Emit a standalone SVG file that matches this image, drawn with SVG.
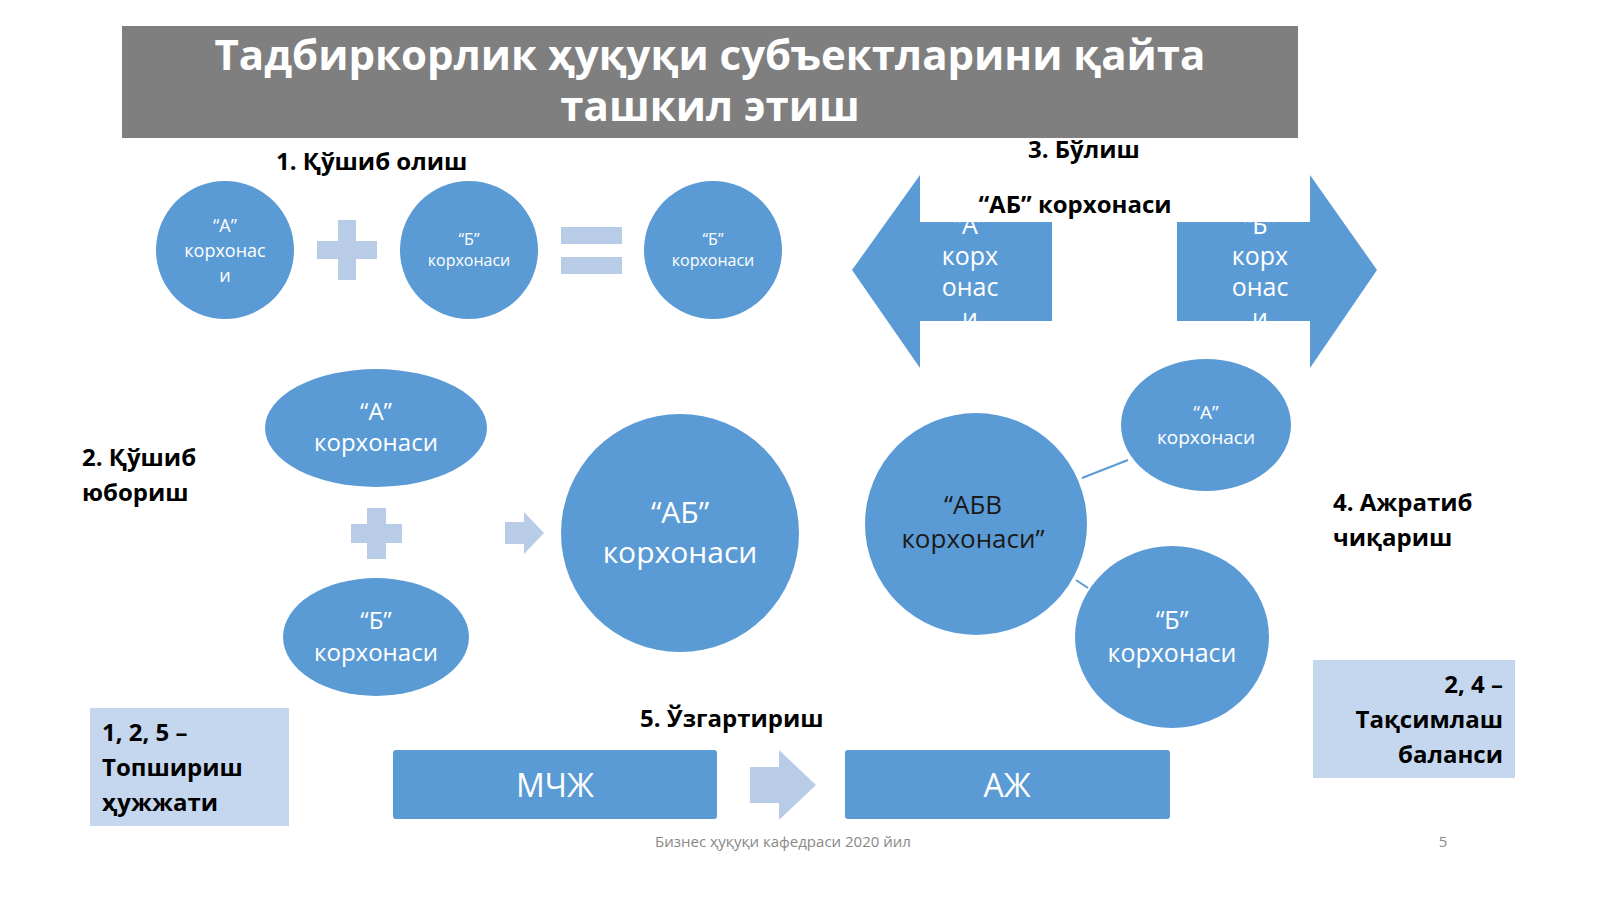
<svg xmlns="http://www.w3.org/2000/svg" width="1600" height="899" viewBox="0 0 1600 899">
<style>
.b{fill:#5b9bd5}
.l{fill:#b8cce8}
.lb{fill:#c5d7ee}
.w{fill:#fff;font-family:"Open Sans","Noto Sans",sans-serif;text-anchor:middle}
.k{fill:#000;font-family:"Open Sans","Noto Sans",sans-serif;font-weight:bold}
</style>
<defs>
<clipPath id="c1"><rect x="920" y="222" width="132" height="99"/></clipPath>
<clipPath id="c2"><rect x="1177" y="222" width="133" height="99"/></clipPath>
</defs>
<rect width="1600" height="899" fill="#fff"/>
<g id="title">
<rect x="122" y="26" width="1176" height="112" fill="#7f7f7f"/>
<text x="710" y="70" class="w" font-size="42" font-weight="bold">Тадбиркорлик ҳуқуқи субъектларини қайта</text>
<text x="710" y="121" class="w" font-size="42" font-weight="bold">ташкил этиш</text>
</g>
<g id="labels">
<text x="276" y="170" class="k" font-size="24">1. Қўшиб олиш</text>
<text x="1028" y="158" class="k" font-size="24">3. Бўлиш</text>
<text x="82" y="466" class="k" font-size="24">2. Қўшиб</text>
<text x="82" y="501" class="k" font-size="24">юбориш</text>
<text x="1333" y="511" class="k" font-size="24">4. Ажратиб</text>
<text x="1333" y="546" class="k" font-size="24">чиқариш</text>
<text x="640" y="727" class="k" font-size="24">5. Ўзгартириш</text>
</g>
<g id="merge1">
<ellipse cx="225" cy="250" rx="69" ry="69" class="b"/>
<text x="225" y="232" class="w" font-size="18">“А”</text>
<text x="225" y="257" class="w" font-size="18">корхонас</text>
<text x="225" y="282" class="w" font-size="18">и</text>
<path d="M338 220h18v21h21v18h-21v21h-18v-21h-21v-18h21z" class="l"/>
<ellipse cx="469" cy="250" rx="69" ry="69" class="b"/>
<text x="469" y="245" class="w" font-size="16">“Б”</text>
<text x="469" y="266" class="w" font-size="16">корхонаси</text>
<rect x="561" y="227" width="61" height="17" class="l"/>
<rect x="561" y="257" width="61" height="17" class="l"/>
<ellipse cx="713" cy="250" rx="69" ry="69" class="b"/>
<text x="713" y="245" class="w" font-size="16">“Б”</text>
<text x="713" y="266" class="w" font-size="16">корхонаси</text>
</g>
<g id="split">
<path d="M852 270L920 175V222H1052V321H920V368Z" class="b"/>
<path d="M1377 270L1310 175V222H1177V321H1310V368Z" class="b"/>
<rect x="920" y="175" width="390" height="47" fill="#fff"/>
<text x="1075" y="213" class="k" font-size="24" text-anchor="middle">“АБ” корхонаси</text>
<g clip-path="url(#c1)" class="w" font-size="25">
<text x="970" y="234">“А”</text><text x="970" y="265">корх</text><text x="970" y="296">онас</text><text x="970" y="327">и</text>
</g>
<g clip-path="url(#c2)" class="w" font-size="25">
<text x="1260" y="234">“Б”</text><text x="1260" y="265">корх</text><text x="1260" y="296">онас</text><text x="1260" y="327">и</text>
</g>
</g>
<g id="merge2">
<ellipse cx="376" cy="428" rx="111" ry="59" class="b"/>
<text x="376" y="420" class="w" font-size="24">“А”</text>
<text x="376" y="451" class="w" font-size="24">корхонаси</text>
<path d="M367 508h19v16h16v19h-16v16h-19v-16h-16v-19h16z" class="l"/>
<ellipse cx="376" cy="637" rx="93" ry="59" class="b"/>
<text x="376" y="629" class="w" font-size="24">“Б”</text>
<text x="376" y="661" class="w" font-size="24">корхонаси</text>
<path d="M505 522h19v-10l20 21l-20 21v-10h-19z" class="l"/>
<ellipse cx="680" cy="533" rx="119" ry="119" class="b"/>
<text x="680" y="523" class="w" font-size="30">“АБ”</text>
<text x="680" y="563" class="w" font-size="30">корхонаси</text>
</g>
<g id="connectors">
<line x1="1082" y1="478" x2="1128" y2="460" stroke="#5b9bd5" stroke-width="2"/>
<line x1="1076" y1="580" x2="1088" y2="588" stroke="#5b9bd5" stroke-width="2"/>
</g>
<g id="spin">
<ellipse cx="976" cy="524" rx="111" ry="111" class="b"/>
<text x="973" y="514" font-size="26" fill="#1a1a1a" font-family="Open Sans,sans-serif" text-anchor="middle">“АБВ</text>
<text x="973" y="548" font-size="26" fill="#1a1a1a" font-family="Open Sans,sans-serif" text-anchor="middle">корхонаси”</text>
<ellipse cx="1206" cy="425" rx="85" ry="66" class="b"/>
<text x="1206" y="419" class="w" font-size="19">“А”</text>
<text x="1206" y="444" class="w" font-size="19">корхонаси</text>
<ellipse cx="1172" cy="637" rx="97" ry="91" class="b"/>
<text x="1172" y="629" class="w" font-size="25">“Б”</text>
<text x="1172" y="662" class="w" font-size="25">корхонаси</text>
</g>
<g id="transform">
<rect x="393" y="750" width="324" height="69" rx="3" class="b"/>
<text x="555" y="797" class="w" font-size="32">МЧЖ</text>
<path d="M750 767h29v-17l37 35l-37 35v-17h-29z" class="l"/>
<rect x="845" y="750" width="325" height="69" rx="3" class="b"/>
<text x="1007" y="797" class="w" font-size="32">АЖ</text>
</g>
<g id="box1">
<rect x="90" y="708" width="199" height="118" class="lb"/>
<text x="102" y="741" class="k" font-size="24">1, 2, 5 –</text>
<text x="102" y="776" class="k" font-size="24">Топшириш</text>
<text x="102" y="811" class="k" font-size="24">ҳужжати</text>
</g>
<g id="box2">
<rect x="1313" y="660" width="202" height="118" class="lb"/>
<text x="1503" y="693" class="k" font-size="24" text-anchor="end">2, 4 –</text>
<text x="1503" y="728" class="k" font-size="24" text-anchor="end">Тақсимлаш</text>
<text x="1503" y="763" class="k" font-size="24" text-anchor="end">баланси</text>
</g>
<g id="footer">
<text x="783" y="847" font-size="15" fill="#888" font-family="Open Sans,sans-serif" text-anchor="middle">Бизнес ҳуқуқи кафедраси 2020 йил</text>
<text x="1443" y="847" font-size="15" fill="#888" font-family="Open Sans,sans-serif" text-anchor="middle">5</text>
</g>
</svg>
